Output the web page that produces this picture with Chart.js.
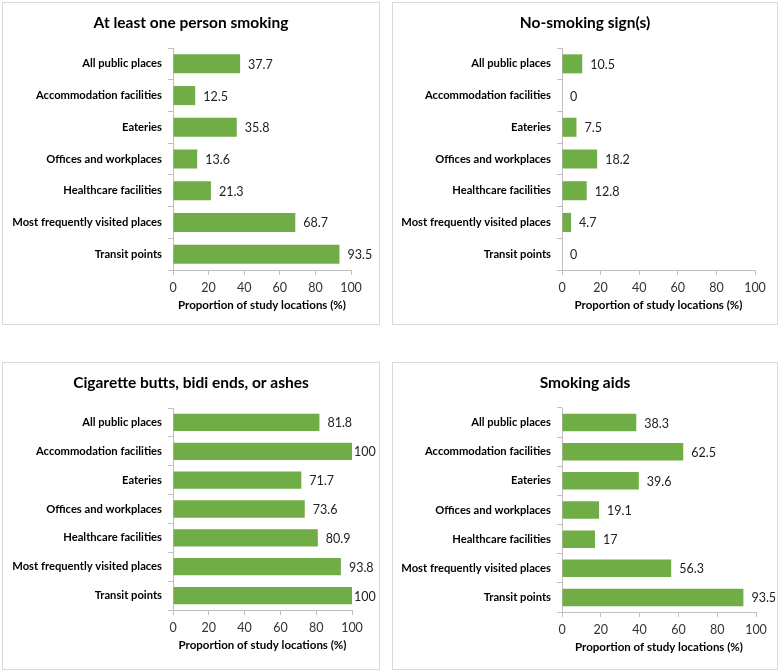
<!DOCTYPE html>
<html>
<head>
<meta charset="utf-8">
<script src="https://cdn.jsdelivr.net/npm/chart.js@4.4.1/dist/chart.umd.min.js"></script>
<style>
  body { margin: 0; background: #fff; width: 782px; height: 672px; position: relative; overflow: hidden; }
  .panel { position: absolute; border: 1px solid #d9d9d9; box-sizing: border-box; background: #fff; }
  .panel canvas { display: block; }
</style>
</head>
<body>
<div class="panel" style="left:2px;top:2px;width:378px;height:323px"><canvas id="c1" width="376" height="321"></canvas></div>
<div class="panel" style="left:392px;top:2px;width:386px;height:323px"><canvas id="c2" width="384" height="321"></canvas></div>
<div class="panel" style="left:2px;top:362px;width:378px;height:308px"><canvas id="c3" width="376" height="306"></canvas></div>
<div class="panel" style="left:392px;top:362px;width:386px;height:308px"><canvas id="c4" width="384" height="306"></canvas></div>
<script>
// --- data ---
const categories = ['All public places', 'Accommodation facilities', 'Eateries', 'Offices and workplaces',
  'Healthcare facilities', 'Most frequently visited places', 'Transit points'];
const smokingValues = [37.7, 12.5, 35.8, 13.6, 21.3, 68.7, 93.5];
const signValues = [10.5, 0, 7.5, 18.2, 12.8, 4.7, 0];
const buttsValues = [81.8, 100, 71.7, 73.6, 80.9, 93.8, 100];
const aidsValues = [38.3, 62.5, 39.6, 19.1, 17, 56.3, 93.5];
const xTicks = [0, 20, 40, 60, 80, 100];
const panelTitles = ['At least one person smoking', 'No-smoking sign(s)', 'Cigarette butts, bidi ends, or ashes', 'Smoking aids'];
const axisTitle = 'Proportion of study locations (%)';

const FONT = 'Lato, "Liberation Sans", sans-serif';
const BAR = '#70ad47';
const AXIS = '#bfbfbf';

// titles, value labels and axis title
const panelText = {
  id: 'panelText',
  afterDraw(chart, args, opts) {
    const ctx = chart.ctx;
    const area = chart.chartArea;
    ctx.save();
    ctx.fillStyle = '#000';
    ctx.textAlign = 'center';
    ctx.textBaseline = 'middle';
    ctx.font = 'bold 15.5px ' + FONT;
    ctx.fillText(opts.title, chart.width / 2, 20);

    ctx.font = 'bold 11.5px ' + FONT;
    ctx.fillText(axisTitle, (area.left + area.right) / 2, area.bottom + 35);

    ctx.font = '12.5px ' + FONT;
    ctx.fillStyle = '#222';
    ctx.textAlign = 'left';
    const meta = chart.getDatasetMeta(0);
    const vals = chart.data.datasets[0].data;
    meta.data.forEach((bar, i) => {
      const txt = String(vals[i]);
      const tw = ctx.measureText(txt).width;
      // labels that would run off the panel sit tight against the bar
      let x = bar.x + 8;
      if (x + tw > chart.width) x = bar.x + 2;
      ctx.fillText(txt, x, bar.y + 1);
    });
    ctx.restore();
  }
};

function makePanel(id, title, values, yWidth, rightPad, xHeight) {
  new Chart(document.getElementById(id), {
    type: 'bar',
    data: {
      labels: categories,
      datasets: [{ data: values, backgroundColor: BAR, barPercentage: 0.6, categoryPercentage: 1 }]
    },
    options: {
      indexAxis: 'y',
      responsive: false,
      animation: false,
      devicePixelRatio: 1,
      layout: { padding: { top: 45, right: rightPad, bottom: 0, left: 0 } },
      plugins: {
        legend: { display: false },
        tooltip: { enabled: false },
        panelText: { title: title }
      },
      scales: {
        x: {
          min: 0, max: 100,
          afterBuildTicks: s => { s.ticks = xTicks.map(v => ({ value: v })); },
          afterFit: s => { s.height = xHeight; },
          grid: { drawOnChartArea: false, tickLength: 5, color: AXIS },
          border: { color: AXIS },
          ticks: { padding: 5, color: '#333', font: { family: FONT, size: 12.5 } }
        },
        y: {
          afterFit: s => { s.width = yWidth; },
          grid: { drawOnChartArea: false, tickLength: 5, offset: true, color: AXIS },
          border: { color: AXIS },
          ticks: { padding: 6, color: '#000', font: { family: FONT, size: 11.2, weight: 'bold' } }
        }
      }
    },
    plugins: [panelText]
  });
}

makePanel('c1', panelTitles[0], smokingValues, 170, 28, 54);
makePanel('c2', panelTitles[1], signValues, 169, 22, 54);
makePanel('c3', panelTitles[2], buttsValues, 170, 27, 59);
makePanel('c4', panelTitles[3], aidsValues, 169, 21, 57);
</script>
</body>
</html>
